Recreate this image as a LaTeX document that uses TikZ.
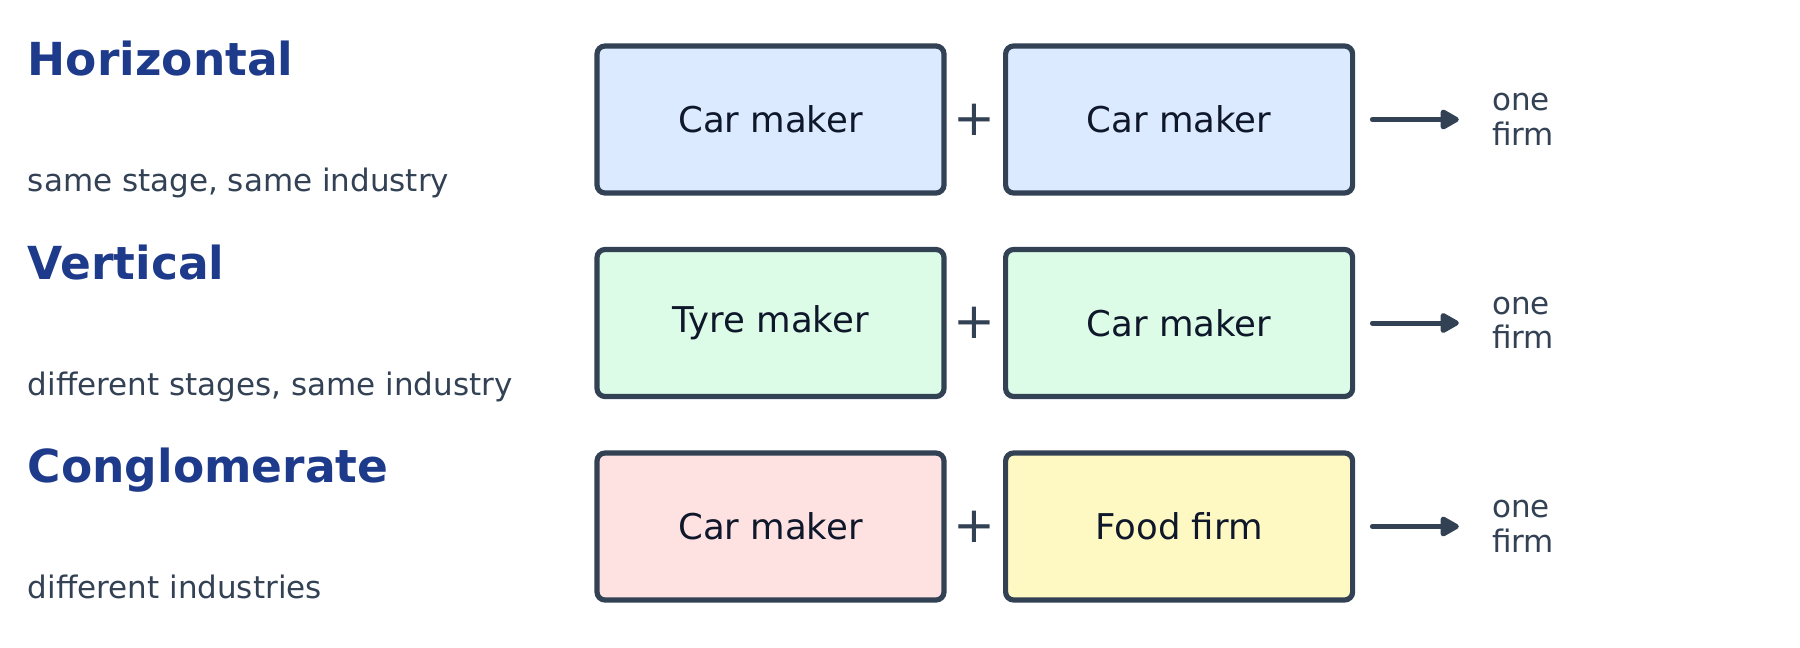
\documentclass[tikz,border=0pt]{standalone}
\usepackage{fontspec}
\setmainfont{DejaVu Sans}
\usetikzlibrary{arrows.meta,positioning}
\definecolor{headblue}{HTML}{1E3A8A}
\definecolor{slate}{HTML}{334155}
\definecolor{ink}{HTML}{0F172A}
\definecolor{fillblue}{HTML}{DBEAFE}
\definecolor{fillgreen}{HTML}{DCFCE7}
\definecolor{fillred}{HTML}{FEE2E2}
\definecolor{fillyellow}{HTML}{FEF9C3}
\tikzstyle{firm}=[rectangle, draw=slate, line width=2.6pt, rounded corners=4pt,
		minimum width=173.5pt, minimum height=73.5pt, inner sep=0pt,
		text=ink, font=\fontsize{17.75pt}{20pt}\selectfont]
\tikzstyle{plus}=[inner sep=0pt, outer sep=0pt, minimum width=28.2pt, text=slate,
		font=\fontsize{25pt}{28pt}\selectfont]
\tikzstyle{heading}=[anchor=base west, inner sep=0pt, text=headblue,
		font=\fontsize{22.75pt}{26pt}\selectfont\bfseries]
\tikzstyle{note}=[anchor=base west, inner sep=0pt, text=slate,
		font=\fontsize{15.5pt}{17.2pt}\selectfont]
\tikzstyle{result}=[inner sep=0pt, align=left, text=slate,
		font=\fontsize{15.5pt}{17.2pt}\selectfont]
\tikzstyle{merge}=[draw=slate, line width=2.5pt, line cap=round,
		-{Triangle[length=10.5pt,width=11pt,round]},
		shorten <=8.6pt, shorten >=16.5pt]

\begin{document}
\begin{tikzpicture}
  \useasboundingbox (0,0) rectangle (900pt,-324pt);

    % horizontal
    \node (HorizTitle) [heading] at (13.75pt,-37.9pt) {Horizontal};
    \node (HorizNote) [note] at (13.75pt,-95.85pt) {same stage, same industry};
    \node (HorizA) [firm, fill=fillblue] at (385.25pt,-59.75pt) {Car maker};
    \node (HorizPlus) [plus, right=0pt of HorizA] {+};
    \node (HorizB) [firm, fill=fillblue, right=0pt of HorizPlus] {Car maker};
    \node (HorizOne) [result, right=68.3pt of HorizB] {one\\firm};
    \draw [merge] (HorizB.east) -- (HorizOne.west);

    % vertical
    \node (VertTitle) [heading] at (13.75pt,-139.65pt) {Vertical};
    \node (VertNote) [note] at (13.75pt,-197.6pt) {different stages, same industry};
    \node (VertA) [firm, fill=fillgreen] at (385.25pt,-161.5pt) {Tyre maker};
    \node (VertPlus) [plus, right=0pt of VertA] {+};
    \node (VertB) [firm, fill=fillgreen, right=0pt of VertPlus] {Car maker};
    \node (VertOne) [result, right=68.3pt of VertB] {one\\firm};
    \draw [merge] (VertB.east) -- (VertOne.west);

    % conglomerate
    \node (CongTitle) [heading] at (13.75pt,-241.4pt) {Conglomerate};
    \node (CongNote) [note] at (13.75pt,-299.35pt) {different industries};
    \node (CongA) [firm, fill=fillred] at (385.25pt,-263.25pt) {Car maker};
    \node (CongPlus) [plus, right=0pt of CongA] {+};
    \node (CongB) [firm, fill=fillyellow, right=0pt of CongPlus] {Food firm};
    \node (CongOne) [result, right=68.3pt of CongB] {one\\firm};
    \draw [merge] (CongB.east) -- (CongOne.west);

\end{tikzpicture}
\end{document}
